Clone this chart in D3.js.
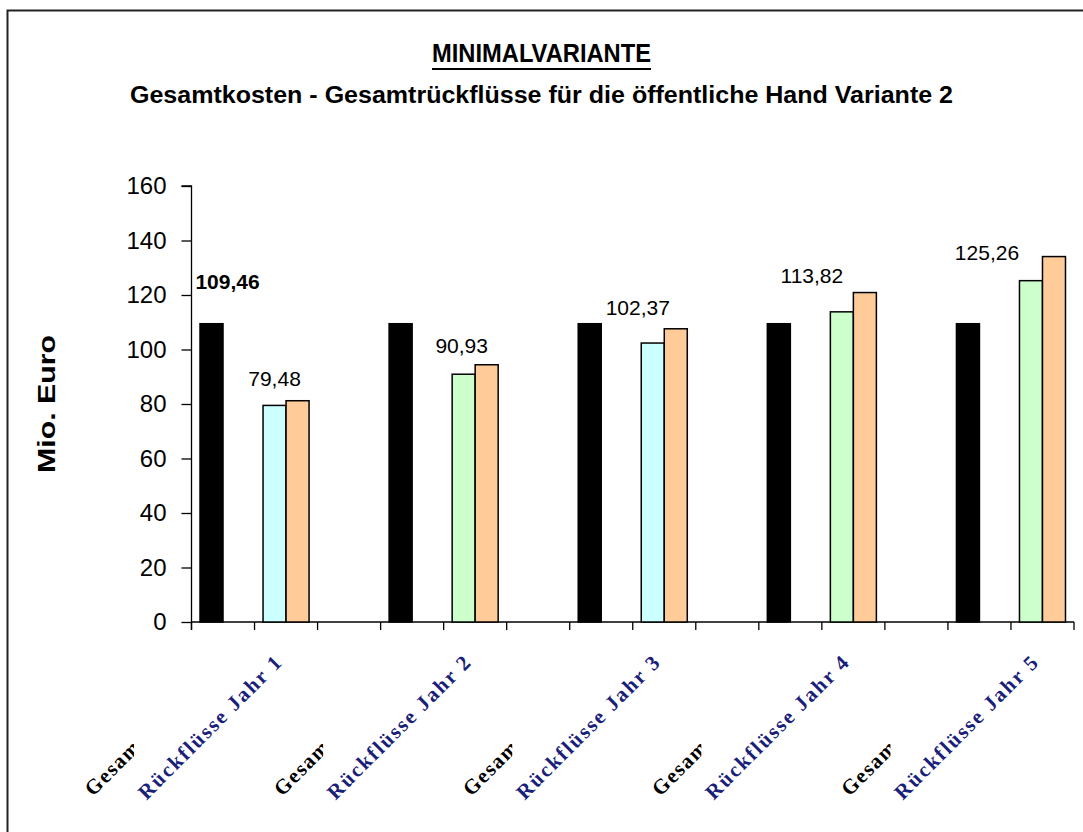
<!DOCTYPE html>
<html>
<head>
<meta charset="utf-8">
<script src="https://cdn.jsdelivr.net/npm/d3@7"></script>
<style>
  body { margin: 0; background: #fff; }
</style>
</head>
<body>
<svg id="chart" width="1083" height="832"></svg>
<script>
// chart data
const categories = [
    "Gesamtkosten", "Rückflüsse Jahr 1", "",
    "Gesamtkosten", "Rückflüsse Jahr 2", "",
    "Gesamtkosten", "Rückflüsse Jahr 3", "",
    "Gesamtkosten", "Rückflüsse Jahr 4", "",
    "Gesamtkosten", "Rückflüsse Jahr 5"
];
const firstSeries = [109.46, 79.48, null, 109.46, 90.93, null, 109.46, 102.37, null, 109.46, 113.82, null, 109.46, 125.26];
const secondSeries = [null, 81.2, null, null, 94.4, null, null, 107.6, null, null, 120.9, null, null, 134.1];
const pointColors = ["#000000", "#ccffff", null, "#000000", "#ccffcc", null, "#000000", "#ccffff", null, "#000000", "#ccffcc", null, "#000000", "#ccffcc"];
const labelledPoints = [0, 1, 4, 7, 10, 13];
const yTicks = [0, 20, 40, 60, 80, 100, 120, 140, 160];

// label placement tweaks (moved by hand in the original)
const labelShift = { 0: [16, -35], 1: [0, -19], 4: [-2, -21], 7: [-15, -28], 10: [-30, -29], 13: [-44, -21] };

const svg = d3.select("#chart");
const plotLeft = 191.5, plotRight = 1074, plotTop = 186, plotBottom = 622;

const x = d3.scaleBand()
    .domain(d3.range(categories.length))
    .range([plotLeft, plotRight])
    .paddingInner(0)
    .paddingOuter(0);

const y = d3.scaleLinear()
    .domain([0, 160])
    .range([plotBottom, plotTop]);

const barW = x.bandwidth() * 0.365;
const deComma = v => d3.format(".2f")(v).replace(".", ",");

// outer frame
svg.append("rect")
    .attr("x", 7.5).attr("y", 10.5)
    .attr("width", 1200).attr("height", 1000)
    .attr("fill", "none")
    .attr("stroke", "#222")
    .attr("stroke-width", 2);

// titles
svg.append("text")
    .attr("x", 541.5).attr("y", 62)
    .attr("text-anchor", "middle")
    .attr("font-family", "Liberation Sans, Arial, sans-serif")
    .attr("font-weight", "bold")
    .attr("font-size", 26)
    .attr("textLength", 219)
    .attr("lengthAdjust", "spacingAndGlyphs")
    .text("MINIMALVARIANTE");

svg.append("line")
    .attr("x1", 432).attr("x2", 651)
    .attr("y1", 69).attr("y2", 69)
    .attr("stroke", "#000")
    .attr("stroke-width", 2);

svg.append("text")
    .attr("x", 541.5).attr("y", 103)
    .attr("text-anchor", "middle")
    .attr("font-family", "Liberation Sans, Arial, sans-serif")
    .attr("font-weight", "bold")
    .attr("font-size", 23)
    .attr("textLength", 823)
    .attr("lengthAdjust", "spacingAndGlyphs")
    .text("Gesamtkosten - Gesamtrückflüsse für die öffentliche Hand Variante 2");

// y axis title
svg.append("text")
    .attr("transform", `translate(55,${(plotTop + plotBottom) / 2}) rotate(-90)`)
    .attr("text-anchor", "middle")
    .attr("font-family", "Liberation Sans, Arial, sans-serif")
    .attr("font-weight", "bold")
    .attr("font-size", 23)
    .attr("textLength", 138)
    .attr("lengthAdjust", "spacingAndGlyphs")
    .text("Mio. Euro");

// y axis
const yAxis = d3.axisLeft(y)
    .tickValues(yTicks)
    .tickSize(10)
    .tickPadding(15)
    .tickFormat(d3.format("d"));

const yg = svg.append("g")
    .attr("transform", `translate(${plotLeft},0)`)
    .call(yAxis);
yg.select(".domain").attr("stroke", "#000").attr("stroke-width", 1.3)
    .attr("d", `M-10,${plotTop}H0V${plotBottom + 8}`);
yg.selectAll(".tick line").attr("stroke", "#000").attr("stroke-width", 1.3);
yg.selectAll(".tick text")
    .attr("font-family", "Liberation Sans, Arial, sans-serif")
    .attr("font-size", 24)
    .attr("fill", "#000");

// x axis with ticks at category boundaries
const xg = svg.append("g");
xg.append("line")
    .attr("x1", plotLeft).attr("x2", plotRight)
    .attr("y1", plotBottom).attr("y2", plotBottom)
    .attr("stroke", "#000").attr("stroke-width", 1.3);
xg.selectAll(".xtick")
    .data(d3.range(categories.length + 1))
    .enter()
    .append("line")
    .attr("x1", i => i < categories.length ? x(i) : plotRight)
    .attr("x2", i => i < categories.length ? x(i) : plotRight)
    .attr("y1", plotBottom).attr("y2", plotBottom + 8)
    .attr("stroke", "#000").attr("stroke-width", 1.3);

// bars
const idx = d3.range(categories.length);

svg.selectAll(".bar1")
    .data(idx.filter(i => firstSeries[i] != null))
    .enter()
    .append("rect")
    .attr("class", "bar1")
    .attr("x", i => x(i) + x.bandwidth() / 2 - barW)
    .attr("y", i => y(firstSeries[i]))
    .attr("width", barW)
    .attr("height", i => plotBottom - y(firstSeries[i]))
    .attr("fill", i => pointColors[i])
    .attr("stroke", "#000")
    .attr("stroke-width", 1.5);

svg.selectAll(".bar2")
    .data(idx.filter(i => secondSeries[i] != null))
    .enter()
    .append("rect")
    .attr("class", "bar2")
    .attr("x", i => x(i) + x.bandwidth() / 2)
    .attr("y", i => y(secondSeries[i]))
    .attr("width", barW)
    .attr("height", i => plotBottom - y(secondSeries[i]))
    .attr("fill", "#ffcc99")
    .attr("stroke", "#000")
    .attr("stroke-width", 1.5);

// data labels
svg.selectAll(".vlabel")
    .data(labelledPoints)
    .enter()
    .append("text")
    .attr("class", "vlabel")
    .attr("x", i => x(i) + x.bandwidth() / 2 - barW / 2 + labelShift[i][0])
    .attr("y", i => y(firstSeries[i]) + labelShift[i][1])
    .attr("text-anchor", "middle")
    .attr("font-family", "Liberation Sans, Arial, sans-serif")
    .attr("font-size", 21)
    .attr("font-weight", i => i === 0 ? "bold" : "normal")
    .text(i => deComma(firstSeries[i]));

// category labels, rotated
const defs = svg.append("defs");
const catG = svg.append("g");
idx.forEach(i => {
    const name = categories[i];
    if (!name) return;
    const cx = x(i) + x.bandwidth() / 2;
    if (name.startsWith("Gesamt")) {
        defs.append("clipPath")
            .attr("id", "clip" + i)
            .append("rect")
            .attr("x", 0).attr("y", 0)
            .attr("width", cx - 89).attr("height", 832);
        catG.append("g")
            .attr("clip-path", `url(#clip${i})`)
            .append("text")
            .attr("transform", `translate(${cx - 130},797) rotate(-45)`)
            .attr("text-anchor", "start")
            .attr("font-family", "Liberation Serif, Times New Roman, serif")
            .attr("font-weight", "bold")
            .attr("font-size", 21)
            .attr("letter-spacing", 1.5)
            .attr("fill", "#000")
            .text(name);
    } else {
        catG.append("text")
            .attr("transform", `translate(${cx - 2},663) rotate(-45)`)
            .attr("text-anchor", "end")
            .attr("font-family", "Liberation Serif, Times New Roman, serif")
            .attr("font-weight", "bold")
            .attr("font-size", 21)
            .attr("letter-spacing", 2)
            .attr("fill", "#18207a")
            .text(name);
    }
});
</script>
</body>
</html>
